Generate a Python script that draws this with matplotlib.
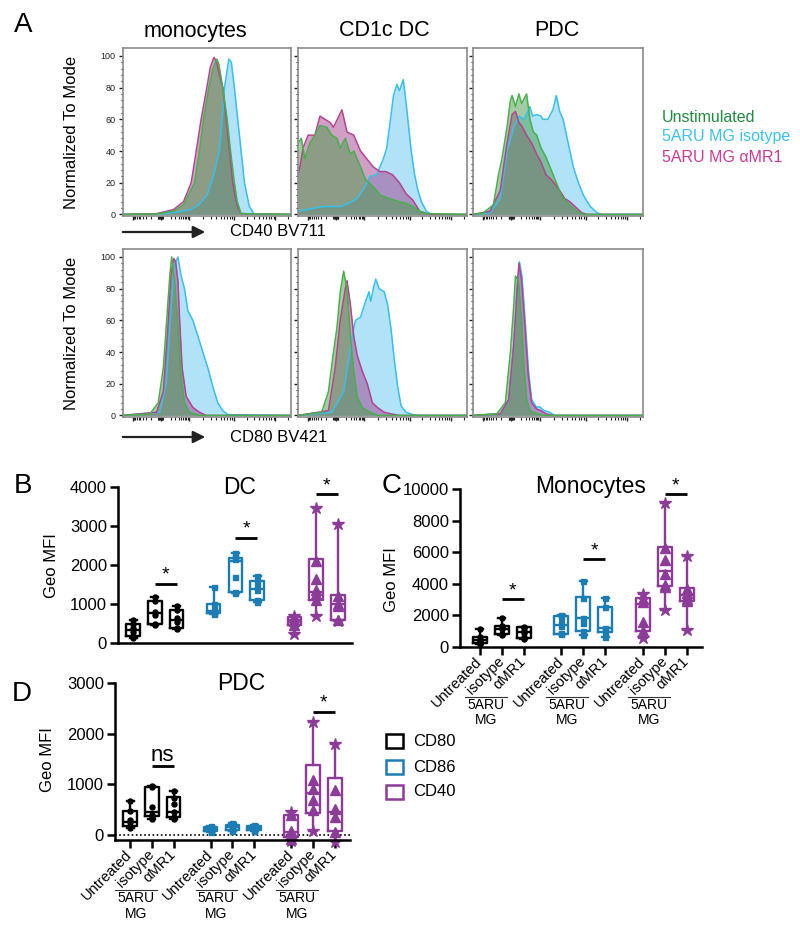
import numpy as np
import matplotlib
matplotlib.use("Agg")
import matplotlib.pyplot as plt
from matplotlib.patches import Rectangle

plt.rcParams['font.family'] = ['Liberation Sans', 'DejaVu Sans']

# --- A : histogrammes (x = % de la largeur de l'axe biexponentiel, y = % du mode)
# CD40 BV711 - monocytes
mono_cd40_iso_x = [0, 25, 35, 40, 45, 50, 54, 57.4, 59, 60.4, 63, 64.5, 66.3, 68.3, 70.3, 72.3, 75.2, 78.2, 100]
mono_cd40_iso_y = [0, 0.5, 2, 3, 6, 12, 25, 40, 60, 80, 98, 96, 80, 60, 40, 20, 5, 0, 0]
mono_cd40_mr1_x = [0, 20, 30, 36, 40.6, 43.6, 46.5, 49.9, 52, 54.1, 55.5, 57, 59.4, 61.4, 63.4, 65.3, 67, 68.5, 70.3, 100]
mono_cd40_mr1_y = [0, 0.5, 3, 8, 20, 40, 60, 80, 93, 99, 97, 90, 80, 60, 40, 20, 10, 4, 0.5, 0]
mono_cd40_uns_x = [0, 20, 30, 36, 42.6, 45.5, 47.9, 51.1, 53.5, 55.8, 57, 59.4, 62, 64, 66.3, 68, 70.3, 100]
mono_cd40_uns_y = [0, 0.3, 2, 6, 20, 40, 60, 80, 92, 98, 95, 80, 60, 40, 20, 8, 0.5, 0]
# CD40 BV711 - CD1c DC
dc_cd40_iso_x = [0, 5, 15, 25, 30, 35, 40, 42.5, 46.5, 50.5, 52.5, 54.5, 56.5, 58.5, 60, 62.3, 64, 65, 67, 69, 71, 73, 76, 79, 100]
dc_cd40_iso_y = [2, 3, 5, 5, 7, 10, 18, 24, 25, 35, 42, 58, 75, 82, 78, 85, 70, 60, 40, 25, 15, 8, 2, 0, 0]
dc_cd40_mr1_x = [0, 1.2, 3, 6, 10, 13, 16, 19, 21, 26, 29, 33, 37, 41.5, 44.5, 48.5, 52, 56, 60, 64, 68, 72, 78, 100]
dc_cd40_mr1_y = [25, 30, 42, 50, 50, 62, 60, 58, 55, 66, 52, 50, 40, 34, 30, 27, 27, 25, 20, 13, 9, 2, 0, 0]
dc_cd40_uns_x = [0, 2, 4, 7, 10, 13, 17, 20, 23, 25, 28, 31, 33, 37, 40, 44, 49, 54, 60, 64, 68, 72, 76, 100]
dc_cd40_uns_y = [45, 48, 35, 45, 50, 56, 55, 50, 48, 42, 48, 38, 40, 30, 22, 18, 12, 10, 8, 7, 5, 2, 0.5, 0]
# CD40 BV711 - PDC
pdc_cd40_iso_x = [0, 10, 16, 20, 24, 27, 30, 33.5, 35, 37.5, 40, 41, 44, 47, 49, 51, 53, 56, 59, 62, 65, 69, 73, 76, 100]
pdc_cd40_iso_y = [0, 1, 10, 40, 55, 62, 60, 68, 62, 63, 62, 60, 60, 66, 75, 65, 60, 45, 30, 20, 12, 5, 1, 0, 0]
pdc_cd40_mr1_x = [0, 10, 16, 20, 23, 25, 27, 28.6, 31.5, 34.5, 37.5, 40, 43, 46, 49, 51, 54, 57, 61, 64, 67, 100]
pdc_cd40_mr1_y = [0, 2, 15, 45, 63, 65, 58, 56, 50, 45, 38, 33, 25, 22, 18, 15, 10, 8, 4, 1, 0, 0]
pdc_cd40_uns_x = [0, 6, 12, 15, 17, 20, 22, 23, 25, 27, 28.6, 31.5, 33.5, 35.5, 37.5, 40, 43, 46, 49, 52, 55, 58, 61, 65, 100]
pdc_cd40_uns_y = [0, 1, 6, 25, 35, 55, 72, 75, 68, 76, 70, 76, 60, 52, 50, 42, 36, 28, 20, 12, 8, 5, 2, 0, 0]
# CD80 BV421 - monocytes
mono_cd80_iso_x = [0, 21.8, 25.7, 28.7, 30.7, 32.7, 34.6, 36.6, 38.6, 41.6, 44.6, 47.5, 50.5, 53.5, 56.4, 59.4, 62.4, 100]
mono_cd80_iso_y = [0, 2, 20, 70, 95, 100, 88, 80, 66, 60, 50, 40, 30, 18, 8, 3, 0.5, 0]
mono_cd80_mr1_x = [0, 20, 24, 26.7, 28.7, 30.3, 31.3, 32.7, 33.7, 35.2, 37.6, 41.6, 45.5, 49.5, 100]
mono_cd80_mr1_y = [0, 2, 15, 55, 90, 99, 97, 85, 60, 30, 12, 5, 2, 0, 0]
mono_cd80_uns_x = [0, 16, 21, 24, 26, 28, 29, 30.7, 32.7, 34.6, 36.6, 39.6, 45.5, 100]
mono_cd80_uns_y = [0, 1, 8, 30, 60, 90, 100, 85, 55, 25, 8, 2, 0, 0]
# CD80 BV421 - CD1c DC
dc_cd80_iso_x = [0, 20, 27, 30, 32, 34, 37, 40, 42, 43, 45, 46, 48, 51, 53, 55, 57, 59, 61, 64, 68, 72, 100]
dc_cd80_iso_y = [0, 2, 15, 35, 50, 60, 62, 72, 78, 72, 82, 86, 80, 78, 70, 55, 35, 18, 6, 2, 0.5, 0, 0]
dc_cd80_mr1_x = [0, 18, 22, 25, 28, 29, 31, 33, 35, 38, 41, 44, 47, 51, 55, 60, 100]
dc_cd80_mr1_y = [0, 3, 30, 60, 80, 85, 70, 50, 38, 28, 20, 8, 5, 2, 1, 0, 0]
dc_cd80_uns_x = [0, 14, 18, 21, 23, 25, 27, 29, 31, 33, 35, 38, 41, 47, 100]
dc_cd80_uns_y = [0, 2, 15, 40, 55, 78, 91, 80, 50, 28, 12, 5, 3, 0, 0]
# CD80 BV421 - PDC
pdc_cd80_iso_x = [0, 16, 21, 24, 26, 27.3, 28.8, 30.8, 32.7, 34.5, 37.5, 39, 42, 45, 48, 100]
pdc_cd80_iso_y = [0, 1, 10, 45, 80, 97, 88, 58, 28, 10, 5, 5.5, 3, 2, 0, 0]
pdc_cd80_mr1_x = [0, 16, 21, 24, 26, 27, 28.6, 30.6, 32.5, 34.5, 37.5, 40, 43, 47, 100]
pdc_cd80_mr1_y = [0, 1, 10, 45, 80, 96, 85, 55, 25, 8, 4, 3, 1, 0, 0]
pdc_cd80_uns_x = [0, 14, 19, 22, 24, 25, 26.7, 28.6, 30, 31.6, 33.5, 37.5, 43, 100]
pdc_cd80_uns_y = [0, 1, 8, 40, 70, 88, 85, 60, 30, 10, 3, 1, 0, 0]

cell_types = ["monocytes", "CD1c DC", "PDC"]
stains = ["CD40 BV711", "CD80 BV421"]
legend_labels = ["Unstimulated", "5ARU MG isotype", "5ARU MG αMR1"]

# --- B, C, D : Geo MFI (ordre : CD80 x3, CD86 x3, CD40 x3)
conditions = ["Untreated", "isotype", "αMR1"]
markers = ["CD80", "CD86", "CD40"]

dc_lo = [140, 460, 360, 740, 1290, 1060, 230, 700, 570]
dc_q1 = [170, 480, 380, 770, 1310, 1090, 470, 1100, 590]
dc_med = [330, 760, 600, 830, 2100, 1380, 580, 1300, 1000]
dc_q3 = [480, 1080, 840, 990, 2180, 1600, 660, 2150, 1220]
dc_hi = [590, 1190, 940, 1440, 2300, 1730, 700, 3450, 3050]
dc_pts = [[590, 480, 380, 280, 170, 140], [1190, 1080, 800, 720, 480, 460], [940, 840, 650, 550, 380, 360],
          [1440, 990, 850, 800, 770, 740], [2300, 2200, 2150, 1700, 1310, 1290], [1730, 1600, 1450, 1350, 1090, 1060],
          [700, 660, 600, 560, 470, 230], [3450, 2100, 1650, 1350, 1250, 1100, 700], [3050, 1200, 1000, 950, 600, 570]]

mono_lo = [180, 730, 520, 800, 720, 640, 550, 2330, 1060]
mono_q1 = [220, 780, 580, 820, 1020, 960, 1000, 3850, 2920]
mono_med = [400, 1150, 950, 1400, 1800, 1200, 2700, 4830, 3280]
mono_q3 = [620, 1320, 1250, 1950, 3130, 2500, 3070, 6350, 3700]
mono_hi = [1100, 1850, 1270, 2000, 4150, 3100, 3360, 9150, 5760]
mono_pts = [[1100, 600, 450, 350, 250, 180], [1850, 1300, 1200, 1100, 800, 730], [1270, 1200, 1000, 900, 600, 520],
            [2000, 1900, 1500, 1300, 850, 800], [4150, 3100, 1850, 1500, 1000, 720], [3100, 2500, 1200, 1100, 950, 640],
            [3360, 3000, 2850, 1550, 1000, 550], [9150, 6300, 5500, 4650, 3950, 3800, 2330],
            [5760, 3650, 3400, 3200, 3000, 2900, 1060]]

pdc_lo = [140, 320, 320, 60, 80, 70, -120, 70, -130]
pdc_q1 = [170, 370, 350, 70, 100, 90, -40, 440, 70]
pdc_med = [260, 450, 450, 110, 150, 130, 50, 820, 460]
pdc_q3 = [480, 950, 750, 160, 200, 170, 400, 1390, 1130]
pdc_hi = [680, 960, 860, 180, 230, 190, 450, 2240, 1800]
pdc_pts = [[680, 480, 300, 250, 180, 140], [960, 940, 560, 400, 350, 320], [860, 740, 620, 450, 350, 320],
           [180, 150, 120, 100, 80, 60], [230, 200, 160, 140, 100, 80], [190, 170, 140, 120, 90, 70],
           [450, 400, 80, 20, -80, -120], [2240, 1080, 900, 700, 500, 70], [1800, 880, 520, 350, 50, -130]]

# barres de significativité : (boîte i, boîte j, hauteur, texte)
dc_sig = [(1, 2, 1520, "*"), (4, 5, 2700, "*"), (7, 8, 3820, "*")]
mono_sig = [(1, 2, 3030, "*"), (4, 5, 5570, "*"), (7, 8, 9700, "*")]
pdc_sig = [(1, 2, 1370, "ns"), (7, 8, 2440, "*")]

# --- Couleurs
green_line, green_fill = "#46b04a", "#4a9a48"
blue_line, blue_fill = "#35c0ee", "#7fd0f2"
mag_line, mag_fill = "#b7428f", "#a0408f"
legend_colors = ["#1f8a3f", "#3cc0ef", "#cf3a95"]
box_colors = ["#000000", "#1b7db4", "#8c3b99"]
pt_marker = ["o", "s", "^"]

W, H = 800, 935
fig = plt.figure(figsize=(8, 9.35), dpi=100)


def px_axes(l, t, r, b):
    return fig.add_axes([l / W, 1 - b / H, (r - l) / W, (b - t) / H])


# graduations biexponentielles
x_major = [5.9, 22.4, 39.2, 66.3, 90.7]
x_minor = [22.4 + d for d in (-1.5, -1.1, -0.7, -0.3, 0.3, 0.7, 1.1, 1.5)] + [98.0]
for k in range(2, 10):
    x_minor += [20.9 - 15 * np.log10(k), 23.9 + 15.3 * np.log10(k),
                39.2 + 27.1 * np.log10(k), 66.3 + 24.4 * np.log10(k)]

hist_cols = [(123, 291), (298, 467), (473, 643)]
hist_rows = [(48, 216), (249, 417)]
hist_data = [
    [(mono_cd40_iso_x, mono_cd40_iso_y, mono_cd40_mr1_x, mono_cd40_mr1_y, mono_cd40_uns_x, mono_cd40_uns_y),
     (dc_cd40_iso_x, dc_cd40_iso_y, dc_cd40_mr1_x, dc_cd40_mr1_y, dc_cd40_uns_x, dc_cd40_uns_y),
     (pdc_cd40_iso_x, pdc_cd40_iso_y, pdc_cd40_mr1_x, pdc_cd40_mr1_y, pdc_cd40_uns_x, pdc_cd40_uns_y)],
    [(mono_cd80_iso_x, mono_cd80_iso_y, mono_cd80_mr1_x, mono_cd80_mr1_y, mono_cd80_uns_x, mono_cd80_uns_y),
     (dc_cd80_iso_x, dc_cd80_iso_y, dc_cd80_mr1_x, dc_cd80_mr1_y, dc_cd80_uns_x, dc_cd80_uns_y),
     (pdc_cd80_iso_x, pdc_cd80_iso_y, pdc_cd80_mr1_x, pdc_cd80_mr1_y, pdc_cd80_uns_x, pdc_cd80_uns_y)],
]

for r, (t, b) in enumerate(hist_rows):
    for c, (l, rr) in enumerate(hist_cols):
        ax = px_axes(l, t, rr, b)
        bx, by, mx, my, gx, gy = hist_data[r][c]
        ax.fill_between(bx, 0, by, color=blue_fill, alpha=0.6, lw=0)
        ax.plot(bx, by, color=blue_line, lw=1.1)
        ax.fill_between(mx, 0, my, color=mag_fill, alpha=0.5, lw=0)
        ax.plot(mx, my, color=mag_line, lw=1.1)
        ax.fill_between(gx, 0, gy, color=green_fill, alpha=0.5, lw=0)
        ax.plot(gx, gy, color=green_line, lw=1.1)
        ax.set_xlim(0, 100)
        ax.set_ylim(-1, 105)
        for s in ax.spines.values():
            s.set_color("#8a8a8a")
            s.set_linewidth(1.2)
        ax.set_xticks(x_major)
        ax.set_xticks(x_minor, minor=True)
        ax.set_yticks([0, 20, 40, 60, 80, 100])
        ax.set_yticks(np.arange(0, 101, 4), minor=True)
        ax.tick_params(which="major", length=3.2, width=1, color="#222", direction="out")
        ax.tick_params(which="minor", length=1.8, width=0.8, color="#222", direction="out")
        ax.set_xticklabels([])
        if c == 0:
            ax.tick_params(axis="y", labelsize=6.5, labelcolor="#222", pad=2)
        else:
            ax.set_yticklabels([])


def draw_boxes(ax, lo, q1, med, q3, hi, pts):
    positions = []
    for k in range(9):
        g, i = divmod(k, 3)
        pos = g * 3.7 + i
        positions.append(pos)
        col = box_colors[g]
        st = [dict(whislo=lo[k], q1=q1[k], med=med[k], q3=q3[k], whishi=hi[k], fliers=[])]
        lp = dict(color=col, lw=1.7)
        ax.bxp(st, positions=[pos], widths=0.62, showfliers=False, capwidths=0.32, manage_ticks=False,
               boxprops=lp, whiskerprops=lp, capprops=lp, medianprops=lp)
        p = np.array(pts[k], dtype=float)
        if g == 2:
            ext = (p == p.max()) | (p == p.min())
            ax.plot(np.full(ext.sum(), pos), p[ext], ls="none", marker="*", ms=9, color=col, clip_on=False)
            ax.plot(np.full((~ext).sum(), pos), p[~ext], ls="none", marker="^", ms=6.5, color=col, clip_on=False)
        else:
            ax.plot(np.full(len(p), pos), p, ls="none", marker=pt_marker[g], ms=3.6, color=col)
    return positions


def style_box_axes(ax, xlim, ylim, yticks):
    ax.set_xlim(xlim)
    ax.set_ylim(ylim)
    ax.spines[["top", "right"]].set_visible(False)
    ax.spines["left"].set_linewidth(1.8)
    ax.spines["bottom"].set_linewidth(1.8)
    ax.set_yticks(yticks)
    ax.tick_params(axis="y", length=6, width=1.8, labelsize=12, pad=2)


def draw_sig(ax, sig):
    for i, j, y, lab in sig:
        pi = (i // 3) * 3.7 + i % 3
        pj = (j // 3) * 3.7 + j % 3
        ax.plot([pi, pj], [y, y], color="k", lw=2, clip_on=False, solid_capstyle="butt")
        if lab == "ns":
            ax.annotate(lab, xy=((pi + pj) / 2, y), xytext=(0, 3.5), textcoords="offset points",
                        ha="center", va="baseline", fontsize=16, annotation_clip=False)
        else:
            ax.annotate(lab, xy=((pi + pj) / 2, y), xytext=(0, 0), textcoords="offset points",
                        ha="center", va="bottom", fontsize=14, annotation_clip=False)


def group_labels(ax, positions, height_px):
    ax.set_xticks(positions)
    ax.set_xticklabels(conditions * 3, rotation=45, ha="right", va="center", rotation_mode="anchor", fontsize=10.5)
    ax.tick_params(axis="x", length=6, width=1.8, pad=3)
    tr = ax.get_xaxis_transform()
    yl = -50 / height_px
    for g in range(3):
        iso = g * 3.7 + 1
        ax.plot([iso - 1.68, iso + 0.22], [yl, yl], color="#333", lw=0.8, transform=tr, clip_on=False)
        ax.text(iso - 0.73, yl - 1 / height_px, "5ARU\nMG", transform=tr, ha="center", va="top",
                fontsize=10, linespacing=1.15)


# B - DC
axB = px_axes(118, 487, 352, 643)
draw_boxes(axB, dc_lo, dc_q1, dc_med, dc_q3, dc_hi, dc_pts)
style_box_axes(axB, (-0.69, 10.05), (0, 4000), [0, 1000, 2000, 3000, 4000])
axB.set_xticks([])
draw_sig(axB, dc_sig)

# C - Monocytes
axC = px_axes(460, 489.3, 701.7, 646.7)
posC = draw_boxes(axC, mono_lo, mono_q1, mono_med, mono_q3, mono_hi, mono_pts)
style_box_axes(axC, (-0.9, 10.08), (0, 10000), [0, 2000, 4000, 6000, 8000, 10000])
group_labels(axC, posC, 157.4)
draw_sig(axC, mono_sig)

# D - PDC
axD = px_axes(115, 683.3, 350, 840)
posD = draw_boxes(axD, pdc_lo, pdc_q1, pdc_med, pdc_q3, pdc_hi, pdc_pts)
style_box_axes(axD, (-0.69, 10.1), (-100, 3000), [0, 1000, 2000, 3000])
axD.axhline(0, color="k", lw=1.2, ls=(0, (1, 1.5)), zorder=0)
group_labels(axD, posD, 156.7)
draw_sig(axD, pdc_sig)

# --- textes et annotations en coordonnées pixels
ov = fig.add_axes([0, 0, 1, 1])
ov.set_xlim(0, W)
ov.set_ylim(H, 0)
ov.axis("off")

for txt, x, y in [("A", 23, 25), ("B", 23, 486), ("C", 392, 486), ("D", 22, 694)]:
    ov.text(x, y, txt, fontsize=20, ha="center", va="center")

for name, x in zip(cell_types, [195, 384, 557]):
    ov.text(x, 31, name, fontsize=15.5, ha="center", va="center")

for y in [132, 333]:
    ov.text(72, y, "Normalized To Mode", rotation=90, fontsize=12, ha="center", va="center")

for stain, y in zip(stains, [232, 437]):
    ov.annotate("", xy=(208, y), xytext=(120, y),
                arrowprops=dict(arrowstyle="-|>", lw=1.6, color="#222", mutation_scale=18))
    ov.text(230, y, stain, fontsize=12, ha="left", va="center")

for lab, col, y in zip(legend_labels, legend_colors, [117, 137, 157]):
    ov.text(662, y, lab, color=col, fontsize=11.5, ha="left", va="center")

for txt, x, y in [("DC", 240, 487), ("Monocytes", 591, 487), ("PDC", 241, 684)]:
    ov.text(x, y, txt, fontsize=16.5, ha="center", va="center")

for x, y in [(51, 566), (391, 580), (48, 760)]:
    ov.text(x, y, "Geo MFI", rotation=90, fontsize=12, ha="center", va="center")

for m, col, y in zip(markers, box_colors, [741, 767, 792]):
    ov.add_patch(Rectangle((386, y - 7), 17, 14, fill=False, ec=col, lw=1.8))
    ov.text(413, y, m, fontsize=12, ha="left", va="center")

fig.savefig("out.png", dpi=100)
